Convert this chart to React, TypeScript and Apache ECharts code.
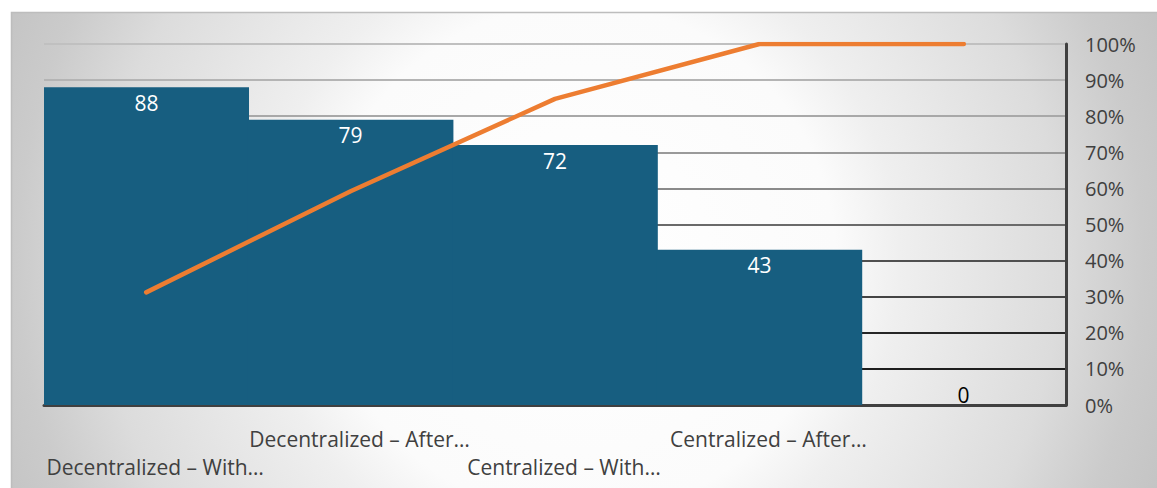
import React, { useEffect, useRef } from "react";
import * as echarts from "echarts";

const categories = [
  "Decentralized – With…",
  "Decentralized – After…",
  "Centralized – With…",
  "Centralized – After…",
  "",
];
const barValues = [88, 79, 72, 43, 0];
const cumulativePercent = [31.2, 59.2, 84.8, 100, 100];
const percentTicks = [0, 10, 20, 30, 40, 50, 60, 70, 80, 90, 100];
const gridLineColors = [
  "#404040",
  "#1e1e1e",
  "#262626",
  "#444444",
  "#505050",
  "#6a6a6a",
  "#8a8a8a",
  "#9a9a9a",
  "#a8a8a8",
  "#b4b4b4",
  "#c0c0c0",
];

const FONT = "'Open Sans', 'Noto Sans', sans-serif";
const BAR_COLOR = "#175e80";

export default function App() {
  const ref = useRef<HTMLDivElement>(null);

  useEffect(() => {
    if (!ref.current) return;
    const chart = echarts.init(ref.current, undefined, { renderer: "svg" });
    const bg = new echarts.graphic.RadialGradient(
      580,
      260,
      640,
      [
        { offset: 0, color: "#ffffff" },
        { offset: 0.4, color: "#fbfbfb" },
        { offset: 0.5, color: "#efefef" },
        { offset: 0.75, color: "#dcdcdc" },
        { offset: 0.88, color: "#cbcbcb" },
        { offset: 1, color: "#c2c2c2" },
      ],
      true
    );
    chart.setOption({
      animation: false,
      graphic: [
        {
          type: "rect",
          z: -100,
          silent: true,
          shape: { x: 11.5, y: 12.5, width: 1150, height: 480 },
          style: { fill: bg, stroke: "#bdbdbd", lineWidth: 1.5 },
        },
      ],
      grid: { left: 44, right: 91, top: 44, bottom: 83, containLabel: false },
      xAxis: {
        type: "category",
        data: categories,
        axisLine: { show: true, lineStyle: { color: "#404040", width: 3 } },
        axisTick: { show: false },
        axisLabel: {
          interval: 0,
          color: "#404040",
          fontFamily: FONT,
          fontSize: 21,
          lineHeight: 28,
          margin: 20,
          padding: [0, 0, 0, 18],
          formatter: (v: string, i: number) => (i % 2 === 0 ? "\n" + v : v),
        },
      },
      yAxis: [
        { type: "value", min: 0, max: 100, show: false },
        {
          type: "value",
          position: "right",
          min: 0,
          max: 100,
          interval: 10,
          axisLine: { show: true, lineStyle: { color: "#404040", width: 3 } },
          axisTick: { show: false },
          axisLabel: {
            color: "#404040",
            fontFamily: FONT,
            fontSize: 20,
            margin: 19,
            formatter: (v: number) =>
              percentTicks.indexOf(v) >= 0 ? v + "%" : "",
          },
          splitLine: {
            show: true,
            lineStyle: { color: gridLineColors, width: 2 },
          },
        },
      ],
      series: [
        {
          type: "bar",
          yAxisIndex: 0,
          barWidth: "100.6%",
          barGap: 0,
          data: barValues.map((v) =>
            v === 0
              ? {
                  value: v,
                  label: { position: "top", color: "#000000", distance: 0 },
                }
              : v
          ),
          itemStyle: { color: BAR_COLOR },
          label: {
            show: true,
            position: "insideTop",
            distance: 5,
            color: "#ffffff",
            fontFamily: FONT,
            fontSize: 21,
          },
          z: 2,
        },
        {
          type: "line",
          yAxisIndex: 1,
          data: cumulativePercent,
          symbol: "none",
          lineStyle: { color: "#ed7d31", width: 4.5, cap: "round" },
          itemStyle: { color: "#ed7d31" },
          z: 3,
        },
      ],
    });
    return () => chart.dispose();
  }, []);

  return (
    <div
      ref={ref}
      style={{
        position: "absolute",
        left: 0,
        top: 0,
        width: 1157,
        height: 488,
        background: "#ffffff",
      }}
    />
  );
}
